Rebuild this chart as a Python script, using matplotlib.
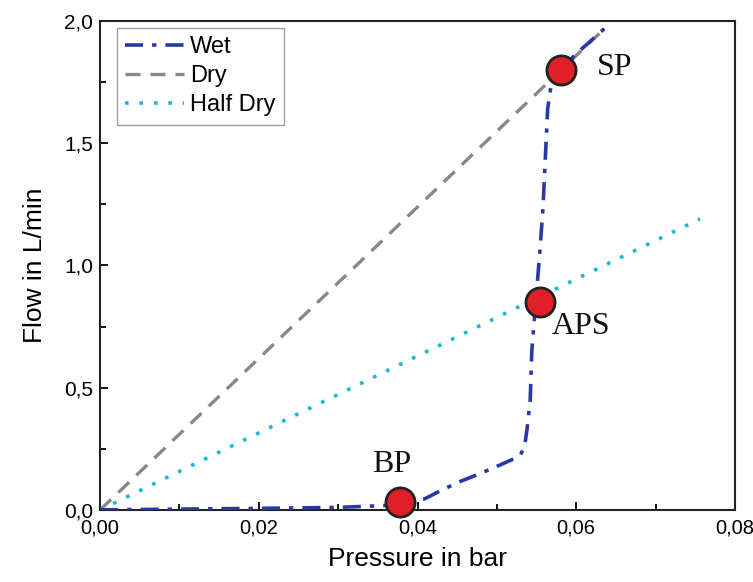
import matplotlib
matplotlib.use("Agg")
import matplotlib.pyplot as plt
from matplotlib.ticker import MultipleLocator, FuncFormatter

plt.rcParams['font.family'] = ['Liberation Sans', 'DejaVu Sans']

# Data
dry_p = [0.0, 0.0636]
dry_f = [0.0, 1.97]

half_p = [0.0, 0.0756]
half_f = [0.0, 1.19]

wet_p = [0.0, 0.010, 0.020, 0.030, 0.0378, 0.0409, 0.0430, 0.0453, 0.0480, 0.0505, 0.0529, 0.0535,
         0.0538, 0.0542, 0.0544, 0.0549, 0.0554, 0.0558, 0.0564, 0.0568, 0.0581, 0.0598, 0.0636]
wet_f = [0.0, 0.003, 0.006, 0.010, 0.02, 0.045, 0.08, 0.115, 0.15, 0.185, 0.22, 0.26,
         0.33, 0.45, 0.65, 0.85, 1.05, 1.23, 1.64, 1.73, 1.80, 1.86, 1.97]

point_labels = ["BP", "APS", "SP"]
point_p = [0.0378, 0.0554, 0.0581]
point_f = [0.03, 0.85, 1.80]

fig = plt.figure(figsize=(7.53, 5.82), dpi=100)
ax = fig.add_axes([0.133, 0.124, 0.843, 0.840])

ax.plot(wet_p, wet_f, color='#2838a8', lw=2.6, linestyle=(0, (5, 2.5, 1.2, 2.5)), label='Wet', zorder=3)
ax.plot(dry_p, dry_f, color='#888888', lw=2.4, linestyle=(0, (4.5, 3)), label='Dry', zorder=2)
ax.plot(half_p, half_f, color='#1cb8d0', lw=2.6, linestyle=(0, (1, 3)), label='Half Dry', zorder=2)

ax.plot(point_p, point_f, 'o', markersize=21, markerfacecolor='#e02028',
        markeredgecolor='#222222', markeredgewidth=2, zorder=5, clip_on=False)

offsets = [(-0.0035, 0.155), (0.0015, -0.10), (0.0045, 0.01)]
for lab, p, f, (dx, dy) in zip(point_labels, point_p, point_f, offsets):
    ax.text(p + dx, f + dy, lab, family=['Liberation Serif'], fontsize=23,
            ha='left', va='center', color='#111111', zorder=6)

ax.set_xlim(0, 0.08)
ax.set_ylim(0, 2.0)
ax.xaxis.set_major_locator(MultipleLocator(0.02))
ax.xaxis.set_minor_locator(MultipleLocator(0.01))
ax.yaxis.set_major_locator(MultipleLocator(0.5))
ax.yaxis.set_minor_locator(MultipleLocator(0.25))
ax.xaxis.set_major_formatter(FuncFormatter(lambda v, _: f"{v:.2f}".replace('.', ',')))
ax.yaxis.set_major_formatter(FuncFormatter(lambda v, _: f"{v:.1f}".replace('.', ',')))
ax.tick_params(which='both', direction='in', top=False, right=False, width=1.3)
ax.tick_params(axis='x', which='major', pad=6, labelsize=14.5)
ax.tick_params(axis='y', which='major', pad=5, labelsize=15)
ax.tick_params(which='major', length=6)
ax.tick_params(which='minor', length=4)
for s in ax.spines.values():
    s.set_linewidth(1.5)
    s.set_color('#222222')

ax.set_xlabel('Pressure in bar', fontsize=19, labelpad=7)
ax.set_ylabel('Flow in L/min', fontsize=19, labelpad=12)

leg = ax.legend(loc='upper left', bbox_to_anchor=(17 / 634.8, 1 - 7 / 488.9),
                fontsize=17, handlelength=2.5, frameon=True,
                fancybox=False, edgecolor='#888888', borderaxespad=0,
                handletextpad=0.25, labelspacing=0.3, borderpad=0.35)
leg.get_frame().set_linewidth(1.0)

fig.savefig('out.png', dpi=100)
